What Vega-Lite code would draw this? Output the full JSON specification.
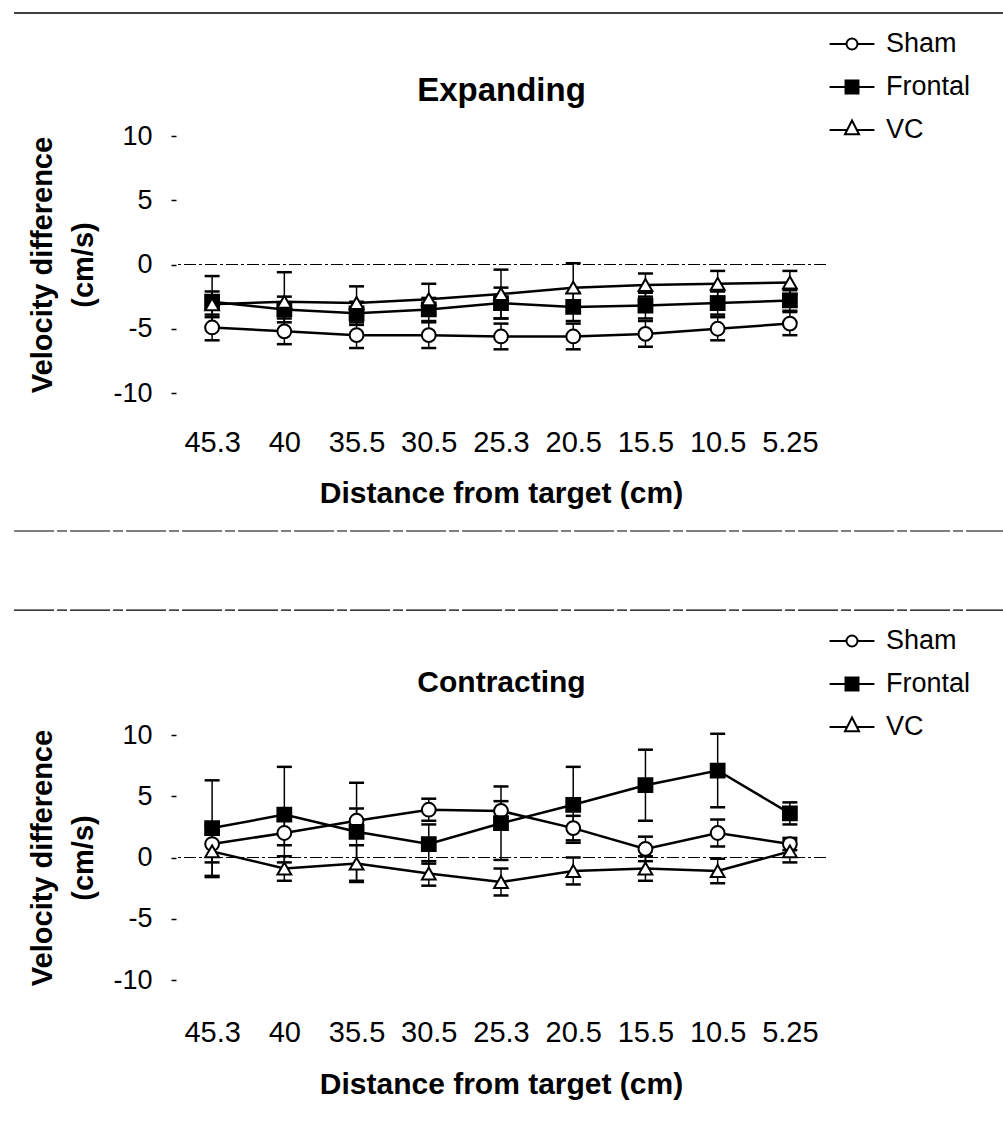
{
  "$schema": "https://vega.github.io/schema/vega-lite/v6.json",
  "background": "white",
  "padding": {"left": 13, "top": 12, "right": 0, "bottom": 5},
  "config": {
    "view": {"stroke": null},
    "font": "Liberation Sans",
    "axis": {"labelColor": "black", "titleColor": "black", "grid": false, "labelFont": "Liberation Sans", "titleFont": "Liberation Sans"},
    "legend": {"labelFont": "Liberation Sans", "labelColor": "black"}
  },
  "datasets": {
    "expanding": [
      {"dist": "45.3", "group": "Sham", "mean": -4.9, "se": 1.0},
      {"dist": "45.3", "group": "Frontal", "mean": -2.9, "se": 2.0},
      {"dist": "45.3", "group": "VC", "mean": -3.1, "se": 1.0},
      {"dist": "40", "group": "Sham", "mean": -5.2, "se": 1.0},
      {"dist": "40", "group": "Frontal", "mean": -3.5, "se": 1.0},
      {"dist": "40", "group": "VC", "mean": -2.9, "se": 2.3},
      {"dist": "35.5", "group": "Sham", "mean": -5.5, "se": 1.0},
      {"dist": "35.5", "group": "Frontal", "mean": -3.8, "se": 0.9},
      {"dist": "35.5", "group": "VC", "mean": -3.0, "se": 1.3},
      {"dist": "30.5", "group": "Sham", "mean": -5.5, "se": 1.0},
      {"dist": "30.5", "group": "Frontal", "mean": -3.5, "se": 0.9},
      {"dist": "30.5", "group": "VC", "mean": -2.7, "se": 1.2},
      {"dist": "25.3", "group": "Sham", "mean": -5.6, "se": 1.0},
      {"dist": "25.3", "group": "Frontal", "mean": -3.0, "se": 1.2},
      {"dist": "25.3", "group": "VC", "mean": -2.3, "se": 1.9},
      {"dist": "20.5", "group": "Sham", "mean": -5.6, "se": 1.0},
      {"dist": "20.5", "group": "Frontal", "mean": -3.3, "se": 1.1},
      {"dist": "20.5", "group": "VC", "mean": -1.8, "se": 1.9},
      {"dist": "15.5", "group": "Sham", "mean": -5.4, "se": 1.0},
      {"dist": "15.5", "group": "Frontal", "mean": -3.2, "se": 1.0},
      {"dist": "15.5", "group": "VC", "mean": -1.6, "se": 0.9},
      {"dist": "10.5", "group": "Sham", "mean": -5.0, "se": 0.9},
      {"dist": "10.5", "group": "Frontal", "mean": -3.0, "se": 0.9},
      {"dist": "10.5", "group": "VC", "mean": -1.5, "se": 1.0},
      {"dist": "5.25", "group": "Sham", "mean": -4.6, "se": 0.9},
      {"dist": "5.25", "group": "Frontal", "mean": -2.8, "se": 0.8},
      {"dist": "5.25", "group": "VC", "mean": -1.4, "se": 0.9}
    ],
    "contracting": [
      {"dist": "45.3", "group": "Sham", "mean": 1.1, "se": 1.5},
      {"dist": "45.3", "group": "Frontal", "mean": 2.4, "se": 3.9},
      {"dist": "45.3", "group": "VC", "mean": 0.5, "se": 2.1},
      {"dist": "40", "group": "Sham", "mean": 2.0, "se": 1.0},
      {"dist": "40", "group": "Frontal", "mean": 3.5, "se": 3.9},
      {"dist": "40", "group": "VC", "mean": -0.9, "se": 1.0},
      {"dist": "35.5", "group": "Sham", "mean": 3.0, "se": 1.0},
      {"dist": "35.5", "group": "Frontal", "mean": 2.1, "se": 4.0},
      {"dist": "35.5", "group": "VC", "mean": -0.5, "se": 1.5},
      {"dist": "30.5", "group": "Sham", "mean": 3.9, "se": 0.9},
      {"dist": "30.5", "group": "Frontal", "mean": 1.1, "se": 1.6},
      {"dist": "30.5", "group": "VC", "mean": -1.3, "se": 1.0},
      {"dist": "25.3", "group": "Sham", "mean": 3.8, "se": 0.8},
      {"dist": "25.3", "group": "Frontal", "mean": 2.8, "se": 3.0},
      {"dist": "25.3", "group": "VC", "mean": -2.0, "se": 1.1},
      {"dist": "20.5", "group": "Sham", "mean": 2.4, "se": 1.0},
      {"dist": "20.5", "group": "Frontal", "mean": 4.3, "se": 3.1},
      {"dist": "20.5", "group": "VC", "mean": -1.1, "se": 1.1},
      {"dist": "15.5", "group": "Sham", "mean": 0.7, "se": 1.0},
      {"dist": "15.5", "group": "Frontal", "mean": 5.9, "se": 2.9},
      {"dist": "15.5", "group": "VC", "mean": -0.9, "se": 1.0},
      {"dist": "10.5", "group": "Sham", "mean": 2.0, "se": 1.1},
      {"dist": "10.5", "group": "Frontal", "mean": 7.1, "se": 3.0},
      {"dist": "10.5", "group": "VC", "mean": -1.1, "se": 1.0},
      {"dist": "5.25", "group": "Sham", "mean": 1.1, "se": 0.5},
      {"dist": "5.25", "group": "Frontal", "mean": 3.6, "se": 0.9},
      {"dist": "5.25", "group": "VC", "mean": 0.5, "se": 0.9}
    ]
  },
  "spacing": 77,
  "resolve": {
    "scale": {"x": "independent", "y": "independent", "shape": "independent", "fill": "independent"},
    "legend": {"shape": "independent", "fill": "independent"}
  },
  "vconcat": [
    {
      "width": 650,
      "height": 257,
      "resolve": {"scale": {"x": "independent"}},
      "layer": [
        {
          "data": {"values": [{"line": "frame"}]},
          "encoding": {
            "x": {"datum": -0.2492, "type": "quantitative", "scale": {"domain": [0, 1]}, "axis": {"orient": "top", "title": "Expanding", "labels": false, "ticks": false, "tickSize": 0, "domain": false, "grid": false, "titleFontSize": 33, "titleFontWeight": "bold", "titlePadding": 29}},
            "x2": {"datum": 1.2738}
          },
          "layer": [
            {
              "mark": {"type": "rule", "color": "black", "strokeWidth": 1.5},
              "encoding": {"y": {"datum": 19.57, "type": "quantitative", "scale": {"domain": [-10, 10], "nice": false, "zero": false}}}
            },
            {
              "mark": {"type": "rule", "color": "black", "strokeWidth": 1.2, "strokeDash": [40, 3, 10, 3]},
              "encoding": {"y": {"datum": -20.74, "type": "quantitative", "scale": {"domain": [-10, 10], "nice": false, "zero": false}}}
            }
          ]
        },
        {
          "data": {"name": "expanding"},
          "resolve": {"scale": {"shape": "independent", "fill": "independent"}},
          "encoding": {
            "x": {
              "field": "dist", "type": "ordinal",
              "sort": ["45.3", "40", "35.5", "30.5", "25.3", "20.5", "15.5", "10.5", "5.25"],
              "scale": {"type": "point", "padding": 0.5},
              "axis": {"labelAngle": 0, "domain": false, "ticks": false, "tickSize": 0, "labelPadding": 35, "labelFontSize": 29, "labelOverlap": false, "title": "Distance from target (cm)", "titleFontSize": 30, "titleFontWeight": "bold", "titlePadding": 21}
            },
            "y": {
              "field": "mean", "type": "quantitative",
              "scale": {"domain": [-10, 10], "nice": false, "zero": false},
              "axis": {"values": [-10, -5, 0, 5, 10], "labelExpr": "datum.value < 0 ? '-' + abs(datum.value) : '' + datum.value", "domain": false, "tickSize": 5, "tickColor": "black", "tickWidth": 1.5, "labelFontSize": 27, "labelPadding": 19, "title": ["Velocity difference", "(cm/s)"], "titleFontSize": 29, "titleFontWeight": "bold", "titleLineHeight": 41, "titlePadding": 14}
            }
          },
          "layer": [
            {
              "mark": {"type": "rule", "color": "black", "strokeWidth": 1.2, "strokeDash": [12, 3, 3, 3]},
              "encoding": {"x": null, "y": {"datum": 0, "type": "quantitative"}}
            },
            {
              "mark": {"type": "errorbar", "color": "black", "opacity": 1, "thickness": 1.5, "rule": {"opacity": 1}, "ticks": {"size": 15, "thickness": 2.5, "opacity": 1, "color": "black"}},
              "encoding": {"yError": {"field": "se"}}
            },
            {
              "mark": {"type": "line", "color": "black", "strokeWidth": 2.5},
              "encoding": {"detail": {"field": "group"}}
            },
            {
              "mark": {"type": "point", "filled": true, "stroke": "black", "strokeWidth": 2, "size": 190, "opacity": 1},
              "encoding": {
                "shape": {"field": "group", "type": "nominal", "scale": {"domain": ["Sham", "Frontal", "VC"], "range": ["circle", "square", "triangle-up"]}, "legend": null},
                "fill": {"field": "group", "type": "nominal", "scale": {"domain": ["Sham", "Frontal", "VC"], "range": ["white", "black", "white"]}, "legend": null}
              }
            },
            {
              "mark": {"type": "point", "filled": true, "stroke": "black", "strokeWidth": 2, "size": 0, "opacity": 1},
              "encoding": {
                "shape": {
                  "field": "group", "type": "nominal",
                  "scale": {"domain": ["Sham", "Frontal", "VC"], "range": ["M-1.18,0H-0.29M0.29,0H1.18M-0.29,0A0.29,0.29,0,1,1,0.29,0A0.29,0.29,0,1,1,-0.29,0Z", "M-1.18,0H1.18M-0.34,-0.34H0.34V0.34H-0.34Z", "M-1.18,0H-0.26M0.26,0H1.18M0,-0.5L0.37,0.22H-0.37Z"]},
                  "legend": {"title": null, "orient": "none", "legendX": 656, "legendY": -112, "padding": 0, "labelFontSize": 27, "labelOffset": 14, "rowPadding": 10, "symbolSize": 1444, "symbolStrokeWidth": 2}
                },
                "fill": {
                  "field": "group", "type": "nominal",
                  "scale": {"domain": ["Sham", "Frontal", "VC"], "range": ["white", "black", "white"]},
                  "legend": {"title": null, "orient": "none", "legendX": 656, "legendY": -112, "padding": 0, "labelFontSize": 27, "labelOffset": 14, "rowPadding": 10, "symbolSize": 1444, "symbolStrokeWidth": 2}
                }
              }
            }
          ]
        }
      ]
    },
    {
      "width": 650,
      "height": 245,
      "resolve": {"scale": {"x": "independent"}},
      "layer": [
        {
          "data": {"values": [{"line": "frame"}]},
          "encoding": {
            "x": {"datum": -0.2492, "type": "quantitative", "scale": {"domain": [0, 1]}, "axis": {"orient": "top", "title": "Contracting", "labels": false, "ticks": false, "tickSize": 0, "domain": false, "grid": false, "titleFontSize": 30, "titleFontWeight": "bold", "titlePadding": 38}},
            "x2": {"datum": 1.2738}
          },
          "layer": [
            {
              "mark": {"type": "rule", "color": "black", "strokeWidth": 1.2, "strokeDash": [40, 3, 10, 3]},
              "encoding": {"y": {"datum": 20.2, "type": "quantitative", "scale": {"domain": [-10, 10], "nice": false, "zero": false}}}
            }
          ]
        },
        {
          "data": {"name": "contracting"},
          "resolve": {"scale": {"shape": "independent", "fill": "independent"}},
          "encoding": {
            "x": {
              "field": "dist", "type": "ordinal",
              "sort": ["45.3", "40", "35.5", "30.5", "25.3", "20.5", "15.5", "10.5", "5.25"],
              "scale": {"type": "point", "padding": 0.5},
              "axis": {"labelAngle": 0, "domain": false, "ticks": false, "tickSize": 0, "labelPadding": 38, "labelFontSize": 29, "labelOverlap": false, "title": "Distance from target (cm)", "titleFontSize": 30, "titleFontWeight": "bold", "titlePadding": 22}
            },
            "y": {
              "field": "mean", "type": "quantitative",
              "scale": {"domain": [-10, 10], "nice": false, "zero": false},
              "axis": {"values": [-10, -5, 0, 5, 10], "labelExpr": "datum.value < 0 ? '-' + abs(datum.value) : '' + datum.value", "domain": false, "tickSize": 5, "tickColor": "black", "tickWidth": 1.5, "labelFontSize": 27, "labelPadding": 19, "title": ["Velocity difference", "(cm/s)"], "titleFontSize": 29, "titleFontWeight": "bold", "titleLineHeight": 41, "titlePadding": 14}
            }
          },
          "layer": [
            {
              "mark": {"type": "rule", "color": "black", "strokeWidth": 1.2, "strokeDash": [12, 3, 3, 3]},
              "encoding": {"x": null, "y": {"datum": 0, "type": "quantitative"}}
            },
            {
              "mark": {"type": "errorbar", "color": "black", "opacity": 1, "thickness": 1.5, "rule": {"opacity": 1}, "ticks": {"size": 15, "thickness": 2.5, "opacity": 1, "color": "black"}},
              "encoding": {"yError": {"field": "se"}}
            },
            {
              "mark": {"type": "line", "color": "black", "strokeWidth": 2.5},
              "encoding": {"detail": {"field": "group"}}
            },
            {
              "mark": {"type": "point", "filled": true, "stroke": "black", "strokeWidth": 2, "size": 190, "opacity": 1},
              "encoding": {
                "shape": {"field": "group", "type": "nominal", "scale": {"domain": ["Sham", "Frontal", "VC"], "range": ["circle", "square", "triangle-up"]}, "legend": null},
                "fill": {"field": "group", "type": "nominal", "scale": {"domain": ["Sham", "Frontal", "VC"], "range": ["white", "black", "white"]}, "legend": null}
              }
            },
            {
              "mark": {"type": "point", "filled": true, "stroke": "black", "strokeWidth": 2, "size": 0, "opacity": 1},
              "encoding": {
                "shape": {
                  "field": "group", "type": "nominal",
                  "scale": {"domain": ["Sham", "Frontal", "VC"], "range": ["M-1.18,0H-0.29M0.29,0H1.18M-0.29,0A0.29,0.29,0,1,1,0.29,0A0.29,0.29,0,1,1,-0.29,0Z", "M-1.18,0H1.18M-0.34,-0.34H0.34V0.34H-0.34Z", "M-1.18,0H-0.26M0.26,0H1.18M0,-0.5L0.37,0.22H-0.37Z"]},
                  "legend": {"title": null, "orient": "none", "legendX": 656, "legendY": -114, "padding": 0, "labelFontSize": 27, "labelOffset": 14, "rowPadding": 10, "symbolSize": 1444, "symbolStrokeWidth": 2}
                },
                "fill": {
                  "field": "group", "type": "nominal",
                  "scale": {"domain": ["Sham", "Frontal", "VC"], "range": ["white", "black", "white"]},
                  "legend": {"title": null, "orient": "none", "legendX": 656, "legendY": -114, "padding": 0, "labelFontSize": 27, "labelOffset": 14, "rowPadding": 10, "symbolSize": 1444, "symbolStrokeWidth": 2}
                }
              }
            }
          ]
        }
      ]
    }
  ]
}
